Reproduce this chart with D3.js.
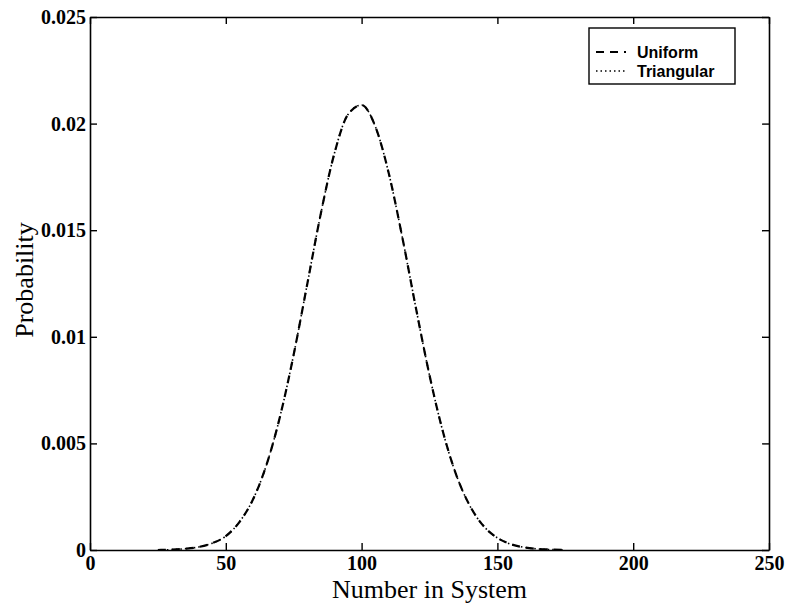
<!DOCTYPE html>
<html>
<head>
<meta charset="utf-8">
<script src="https://cdn.jsdelivr.net/npm/d3@7"></script>
<style>
body { margin: 0; background: #fff; }
.tick text { font-family: "Liberation Serif", "Times New Roman", serif; font-size: 20px; font-weight: bold; fill: #000; }
.axisLabel { font-family: "Liberation Serif", "Times New Roman", serif; font-size: 26px; fill: #000; }
.legendText { font-family: "Liberation Sans", Arial, sans-serif; font-size: 16px; font-weight: bold; fill: #000; }
</style>
</head>
<body>
<div id="chart"></div>
<script>

// DATA

const xValues = [25, 30, 35, 40, 45, 50, 55, 60, 65, 70, 75, 80, 85, 90, 95, 100,
    105, 110, 115, 120, 125, 130, 135, 140, 145, 150, 155, 160, 165, 170, 175];

const uniformProb = [0, 0.00002, 0.00006, 0.00014, 0.00032, 0.00065, 0.00131, 0.00237, 0.00400,
    0.00628, 0.00917, 0.01248, 0.01579, 0.01861, 0.02043, 0.02087,
    0.01988, 0.01767, 0.01466, 0.01135, 0.00820, 0.00552, 0.00347, 0.00204,
    0.00111, 0.00057, 0.00027, 0.00012, 0.00005, 0.00002, 0];

const triangularProb = [0, 0.00002, 0.00006, 0.00014, 0.00032, 0.00065, 0.00131, 0.00237, 0.00400,
    0.00628, 0.00917, 0.01248, 0.01579, 0.01861, 0.02043, 0.02087,
    0.01988, 0.01767, 0.01466, 0.01135, 0.00820, 0.00552, 0.00347, 0.00204,
    0.00111, 0.00057, 0.00027, 0.00012, 0.00005, 0.00002, 0];

const xTicks = [0, 50, 100, 150, 200, 250];
const yTicks = [0, 0.005, 0.01, 0.015, 0.02, 0.025];
const seriesNames = ["Uniform", "Triangular"];

// MAKE SVG CANVAS

const width = 785;
const height = 607;
const margin = {top: 17, left: 90, right: 16, bottom: 57};
const svg = d3.select("#chart")
    .append("svg")
    .attr("width", width)
    .attr("height", height);

// SCALES

const xScale = d3.scaleLinear()
    .domain([0, 250])
    .range([margin.left, width - margin.right]);

const yScale = d3.scaleLinear()
    .domain([0, 0.025])
    .range([height - margin.bottom, margin.top]);

const fmt = d => d === 0 ? "0" : String(+d.toFixed(3));

// AXIS (matlab box, ticks pointing in)

const tickLen = 7;

svg.append("g")
    .attr("transform", `translate(0,${height - margin.bottom})`)
    .call(d3.axisBottom(xScale).tickValues(xTicks).tickSizeInner(-tickLen).tickSizeOuter(0).tickPadding(6).tickFormat(fmt));

svg.append("g")
    .attr("transform", `translate(0,${margin.top})`)
    .call(d3.axisTop(xScale).tickValues(xTicks).tickSizeInner(-tickLen).tickSizeOuter(0).tickFormat(""));

svg.append("g")
    .attr("transform", `translate(${margin.left},0)`)
    .call(d3.axisLeft(yScale).tickValues(yTicks).tickSizeInner(-tickLen).tickSizeOuter(0).tickPadding(4).tickFormat(fmt));

svg.append("g")
    .attr("transform", `translate(${width - margin.right},0)`)
    .call(d3.axisRight(yScale).tickValues(yTicks).tickSizeInner(-tickLen).tickSizeOuter(0).tickFormat(""));

svg.selectAll(".domain").attr("stroke", "#000").attr("stroke-width", 1.6);
svg.selectAll(".tick line").attr("stroke", "#000").attr("stroke-width", 1.4);

svg.append("text")
    .attr("class", "axisLabel")
    .attr("x", (margin.left + width - margin.right) / 2)
    .attr("y", height - 9)
    .attr("text-anchor", "middle")
    .text("Number in System");

svg.append("text")
    .attr("class", "axisLabel")
    .attr("transform", "rotate(-90)")
    .attr("x", -280)
    .attr("y", 33)
    .attr("text-anchor", "middle")
    .text("Probability");

// LINES

const line = d3.line()
    .x((d, i) => xScale(xValues[i]))
    .y(d => yScale(d))
    .curve(d3.curveMonotoneX);

svg.append("path")
    .datum(uniformProb)
    .attr("d", line)
    .attr("fill", "none")
    .attr("stroke", "#000")
    .attr("stroke-width", 2.2)
    .attr("stroke-dasharray", "8,6");

svg.append("path")
    .datum(triangularProb)
    .attr("d", line)
    .attr("fill", "none")
    .attr("stroke", "#000")
    .attr("stroke-width", 1.6)
    .attr("stroke-dasharray", "1.5,3");

// LEGEND

const legend = svg.append("g");

legend.append("rect")
    .attr("x", 589)
    .attr("y", 28)
    .attr("width", 146)
    .attr("height", 56)
    .attr("fill", "#fff")
    .attr("stroke", "#000")
    .attr("stroke-width", 1.4);

const dashes = ["8,6", "1.5,3"];
const widths = [2.2, 1.6];

seriesNames.forEach(function(name, i) {
    const y = 52 + i * 19;
    legend.append("line")
        .attr("x1", 596).attr("x2", 626)
        .attr("y1", y).attr("y2", y)
        .attr("stroke", "#000")
        .attr("stroke-width", widths[i])
        .attr("stroke-dasharray", dashes[i]);
    legend.append("text")
        .attr("class", "legendText")
        .attr("x", 637)
        .attr("y", y + 6)
        .text(name);
});

</script>
</body>
</html>
